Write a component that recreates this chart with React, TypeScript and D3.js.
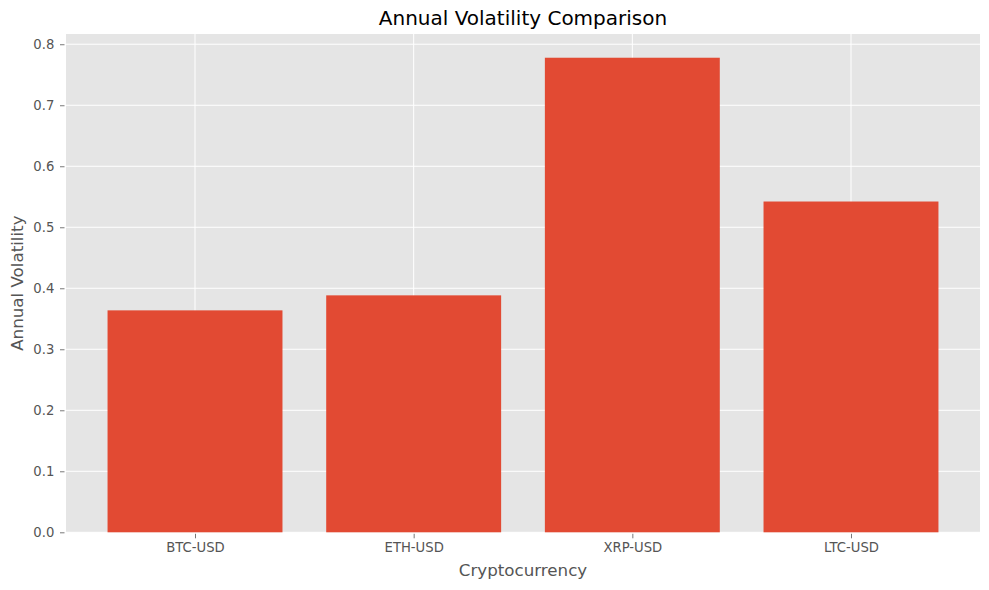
import * as React from 'react'
import { useEffect, useRef } from 'react'
import * as d3 from 'd3'

const categories = ['BTC-USD', 'ETH-USD', 'XRP-USD', 'LTC-USD']
const volatility = [0.3638, 0.3884, 0.7779, 0.5422]
const yTicks = [0, 0.1, 0.2, 0.3, 0.4, 0.5, 0.6, 0.7, 0.8]

const width = 989
const height = 590
const marginLeft = 66
const marginRight = 9
const marginTop = 34
const marginBottom = 57.7

export default function App() {
  const svgRef = useRef<SVGSVGElement>(null)

  useEffect(() => {
    if (!svgRef.current) return
    const svg = d3.select(svgRef.current)
    svg.selectAll('*').remove()

    const innerWidth = width - marginLeft - marginRight
    const innerHeight = height - marginTop - marginBottom
    const font = 'DejaVu Sans, sans-serif'
    const tickFont = '13.2px'

    // matplotlib-like limits: bars of width 0.8, 5% margins
    const xScale = d3.scaleLinear()
      .domain([-0.4 - 0.19, categories.length - 1 + 0.4 + 0.19])
      .range([0, innerWidth])
    const yMax = (d3.max(volatility) as number) * 1.05
    const yScale = d3.scaleLinear().domain([0, yMax]).range([innerHeight, 0])

    const g = svg.append('g')
      .attr('transform', `translate(${marginLeft}, ${marginTop})`)

    // background
    g.append('rect')
      .attr('width', innerWidth)
      .attr('height', innerHeight)
      .attr('fill', '#E5E5E5')

    // grid
    g.selectAll('.hgrid')
      .data(yTicks)
      .enter()
      .append('line')
      .attr('x1', 0)
      .attr('x2', innerWidth)
      .attr('y1', d => yScale(d))
      .attr('y2', d => yScale(d))
      .attr('stroke', '#fff')
      .attr('stroke-width', 1)

    g.selectAll('.vgrid')
      .data(categories)
      .enter()
      .append('line')
      .attr('x1', (_, i) => xScale(i))
      .attr('x2', (_, i) => xScale(i))
      .attr('y1', 0)
      .attr('y2', innerHeight)
      .attr('stroke', '#fff')
      .attr('stroke-width', 1)

    // bars
    g.selectAll('.bar')
      .data(volatility)
      .enter()
      .append('rect')
      .attr('x', (_, i) => xScale(i - 0.4))
      .attr('width', xScale(0.8) - xScale(0))
      .attr('y', d => yScale(d))
      .attr('height', d => innerHeight - yScale(d))
      .attr('fill', '#E24A33')

    // y axis
    const yAxis = d3.axisLeft(yScale)
      .tickValues(yTicks)
      .tickFormat(d3.format('.1f'))
      .tickSize(4.5)
      .tickPadding(5.7)
    const yg = g.append('g')
      .attr('transform', 'translate(-1.5, 0)')
      .call(yAxis as any)
    yg.select('.domain').remove()
    yg.selectAll('line').attr('stroke', '#555555').attr('stroke-width', 0.8)
    yg.selectAll('text')
      .attr('fill', '#555555')
      .style('font-family', font)
      .style('font-size', tickFont)

    // x axis
    const xAxis = d3.axisBottom(xScale)
      .tickValues(categories.map((_, i) => i))
      .tickFormat((_, i) => categories[i])
      .tickSize(4.5)
      .tickPadding(4.5)
    const xg = g.append('g')
      .attr('transform', `translate(0, ${innerHeight + 1.5})`)
      .call(xAxis as any)
    xg.select('.domain').remove()
    xg.selectAll('line').attr('stroke', '#555555').attr('stroke-width', 0.8)
    xg.selectAll('text')
      .attr('fill', '#555555')
      .style('font-family', font)
      .style('font-size', tickFont)

    // labels
    svg.append('text')
      .attr('x', marginLeft + innerWidth / 2)
      .attr('y', 576)
      .attr('text-anchor', 'middle')
      .attr('fill', '#555555')
      .style('font-family', font)
      .style('font-size', '16.7px')
      .text('Cryptocurrency')

    svg.append('text')
      .attr('transform', `translate(23, ${marginTop + innerHeight / 2}) rotate(-90)`)
      .attr('text-anchor', 'middle')
      .attr('fill', '#555555')
      .style('font-family', font)
      .style('font-size', '16.7px')
      .text('Annual Volatility')

    svg.append('text')
      .attr('x', marginLeft + innerWidth / 2)
      .attr('y', 25)
      .attr('text-anchor', 'middle')
      .attr('fill', '#000')
      .style('font-family', font)
      .style('font-size', '20px')
      .text('Annual Volatility Comparison')
  }, [])

  return (
    <svg
      ref={svgRef}
      width={width}
      height={height}
      style={{ position: 'absolute', left: 0, top: 0, background: '#fff' }}
    />
  )
}
